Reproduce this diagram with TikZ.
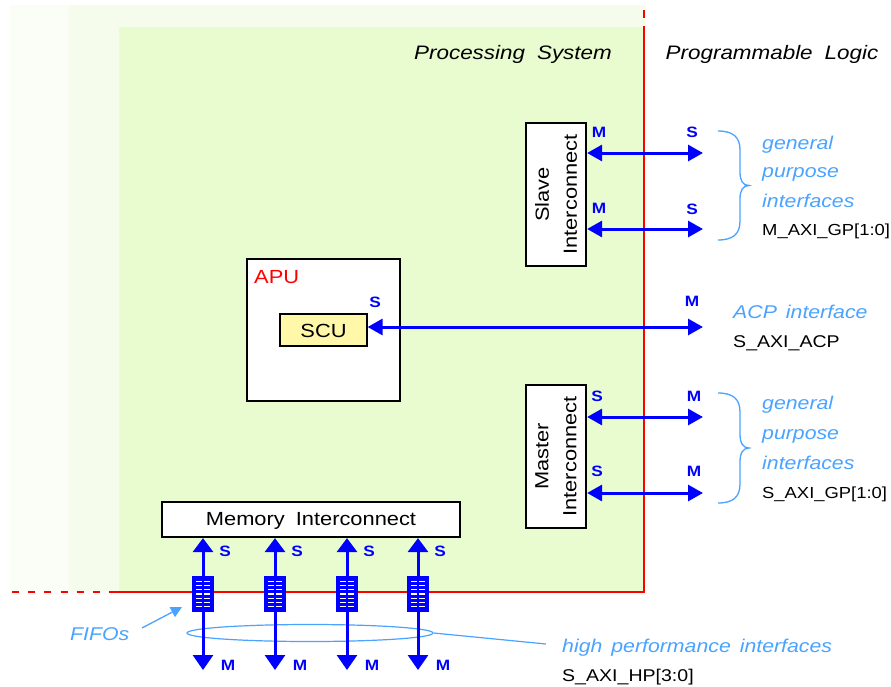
\documentclass[tikz,border=0pt]{standalone}
\usepackage{fontspec}
\setmainfont{Liberation Sans}[FakeStretch=1.15]
\usetikzlibrary{arrows.meta,shapes.geometric,calc}
\definecolor{psgreen}{HTML}{E9FCD0}
\definecolor{psmid}{HTML}{F5FCEC}
\definecolor{psfaint}{HTML}{FBFEF6}
\definecolor{arrowblue}{HTML}{0000FF}
\definecolor{lblue}{HTML}{4AA3FF}
\definecolor{redline}{HTML}{FF0000}
\definecolor{scuyellow}{HTML}{FFF8A8}
\begin{document}
\begin{tikzpicture}[x=1pt,y=-1pt,
  blk/.style={draw=black, line width=2.2pt, fill=white, inner sep=0pt},
  bia/.style={draw=arrowblue, line width=3pt, {Triangle[length=15pt,width=16pt]}-{Triangle[length=15pt,width=16pt]}},
  biv/.style={draw=arrowblue, line width=3pt, {Triangle[length=14pt,width=20pt]}-{Triangle[length=15pt,width=20pt]}},
  portlbl/.style={text=arrowblue, font=\fontsize{15}{15}\selectfont\bfseries, inner sep=0pt, anchor=base},
  lbl/.style={text=lblue, font=\fontsize{18.5}{20}\selectfont\itshape, inner sep=0pt, anchor=base west},
  sig/.style={text=black, font=\fontsize{17}{20}\selectfont, inner sep=0pt, anchor=base west},
  blktext/.style={font=\fontsize{19}{28}\selectfont, inner sep=0pt},
  hdr/.style={font=\fontsize{19.5}{20}\selectfont\itshape, inner sep=0pt, anchor=base},
  bracestyle/.style={draw=lblue, line width=1.3pt},
  fifo/.style={draw=arrowblue, fill=arrowblue, line width=1.8pt, minimum width=21pt, minimum height=34pt, inner sep=0pt,
    path picture={
      \foreach \k in {1,...,7}{
        \draw[white, line width=1.3pt]
          ($(path picture bounding box.north west)!\k/8!(path picture bounding box.south west)+(3.5pt,0)$) --
          ($(path picture bounding box.north)!\k/8!(path picture bounding box.south)+(-1pt,0)$);
        \draw[white, line width=1.3pt]
          ($(path picture bounding box.north)!\k/8!(path picture bounding box.south)+(1pt,0)$) --
          ($(path picture bounding box.north east)!\k/8!(path picture bounding box.south east)+(-3.5pt,0)$);
      }}}
]
\useasboundingbox (0,0) rectangle (891,686);
\fill[white] (0,0) rectangle (891,686);

% background regions
\fill[psfaint] (10,5) rectangle (645,592);
\fill[psmid] (69,5) rectangle (645,592);
\fill[psgreen] (119,27) rectangle (645,592);

% red boundary
\draw[redline, line width=2.6pt] (644,27) -- (644,592) -- (110,592);
\draw[redline, line width=2.6pt, dash pattern=on 8pt off 8.4pt] (644,10) -- (644,27);
\draw[redline, line width=2.6pt, dash pattern=on 7pt off 9.2pt] (12,592) -- (110,592);

% headers
\node[hdr] (ps) at (513,59) {Processing\hspace{12pt}System};
\node[hdr] (pl) at (772,59) {Programmable\hspace{12pt}Logic};

% blocks
\node[blk, minimum width=60pt, minimum height=143pt] (slave) at (556,194.5) {};
\node[blktext, rotate=90, align=center] (slavet) at (slave.center) {Slave\\Interconnect};
\node[blk, minimum width=60pt, minimum height=143pt] (master) at (556,456.5) {};
\node[blktext, rotate=90, align=center] (mastert) at (master.center) {Master\\Interconnect};
\node[blk, minimum width=153pt, minimum height=142pt] (apu) at (323.5,330) {};
\node[blktext, text=redline, anchor=base west] (apul) at (254,283) {APU};
\node[draw=black, line width=1.2pt, fill=scuyellow, minimum width=87pt, minimum height=32pt, inner sep=0pt] (scu) at (323.5,330) {};
\node[blktext, anchor=base] (scut) at (323.5,337) {SCU};
\node[blk, minimum width=298pt, minimum height=35pt] (mem) at (311,519.5) {};
\node[blktext, anchor=base] (memt) at (311,525) {Memory\hspace{11pt}Interconnect};

% free ends
\coordinate (g1) at (703,153);
\coordinate (g2) at (703,229);
\coordinate (acp) at (703,327);
\coordinate (g3) at (703,417);
\coordinate (g4) at (703,493);

\draw[bia] (g1 -| slave.east) -- (g1);
\draw[bia] (g2 -| slave.east) -- (g2);
\draw[bia] (acp -| scu.east) -- (acp);
\draw[bia] (g3 -| master.east) -- (g3);
\draw[bia] (g4 -| master.east) -- (g4);

% port labels
\node[portlbl] (m1) at (599,137) {M};
\node[portlbl] (s1) at (692,137) {S};
\node[portlbl] (m2) at (599,213) {M};
\node[portlbl] (s2) at (692,214) {S};
\node[portlbl] (sacp) at (375,307) {S};
\node[portlbl] (macp) at (692,306) {M};
\node[portlbl] (s3) at (597,401) {S};
\node[portlbl] (m3) at (694,401) {M};
\node[portlbl] (s4) at (597,476) {S};
\node[portlbl] (m4) at (694,476) {M};

% braces
\draw[bracestyle] (718,131) .. controls (733,131) and (740,137) .. (740,150) -- (740,172)
  .. controls (740,181) and (743,185.5) .. (749,185.5)
  .. controls (743,185.5) and (740,190) .. (740,199) -- (740,221)
  .. controls (740,234) and (733,240) .. (718,240);
\draw[bracestyle] (718,393) .. controls (733,393) and (740,399) .. (740,412) -- (740,434)
  .. controls (740,443) and (743,448) .. (749,448)
  .. controls (743,448) and (740,453) .. (740,462) -- (740,484)
  .. controls (740,497) and (733,503) .. (718,503);

% right-side labels
\node[lbl] (gp1a) at (762,149) {general};
\node[lbl] (gp1b) at (762,177) {purpose};
\node[lbl] (gp1c) at (762,207) {interfaces};
\node[sig, font=\fontsize{16}{20}\selectfont] (gp1d) at (762,235) {M\_AXI\_GP[1:0]};
\node[lbl] (acpa) at (733,318) {ACP\hspace{9pt}interface};
\node[sig] (acpb) at (733,347) {S\_AXI\_ACP};
\node[lbl] (gp2a) at (762,409) {general};
\node[lbl] (gp2b) at (762,439) {purpose};
\node[lbl] (gp2c) at (762,469) {interfaces};
\node[sig, font=\fontsize{16}{20}\selectfont] (gp2d) at (762,498) {S\_AXI\_GP[1:0]};

% high performance ports
\node[ellipse, draw=lblue, line width=1.2pt, minimum width=246pt, minimum height=17pt, inner sep=0pt] (hp) at (310,633) {};
\coordinate (hpend) at (546,644);
\draw[draw=lblue, line width=1.2pt] (hp.east) -- (hpend);

\foreach \i/\x in {1/203,2/275,3/347,4/418}{
  \coordinate (b\i) at (\x,670);
  \draw[biv] (b\i |- mem.south) -- (b\i);
  \node[fifo] (f\i) at (\x,594) {};
  \node[portlbl] (ps\i) at (\x+22,556) {S};
  \node[portlbl] (pm\i) at (\x+25,670) {M};
}

\node[lbl] (hpa) at (562,652) {high\hspace{9pt}performance\hspace{9pt}interfaces};
\node[sig] (hpb) at (562,681) {S\_AXI\_HP[3:0]};

\node[lbl] (fifol) at (70,640) {FIFOs};
\coordinate (fifotip) at (182,607);
\draw[draw=lblue, line width=1.3pt, -{Triangle[length=11pt,width=11pt]}] (142,628) -- (fifotip);
\end{tikzpicture}
\end{document}
